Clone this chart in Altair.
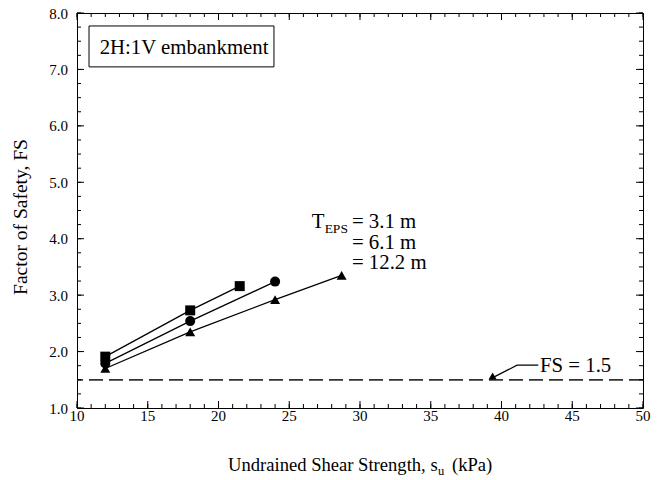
import altair as alt
import pandas as pd

# ---- data ----
series_names = ["3.1 m", "6.1 m", "12.2 m"]
su_31 = [12, 18, 21.5]
fs_31 = [1.91, 2.73, 3.16]
su_61 = [12, 18, 24]
fs_61 = [1.79, 2.54, 3.24]
su_122 = [12, 18, 24, 28.7]
fs_122 = [1.70, 2.35, 2.92, 3.35]
fs_limit = [1.5]

x_major = [10, 15, 20, 25, 30, 35, 40, 45, 50]
x_minor = list(range(10, 51))
y_major = [1, 2, 3, 4, 5, 6, 7, 8]
y_minor = [1 + 0.25 * i for i in range(29)]
x_labels = ["10", "15", "20", "25", "30", "35", "40", "45", "50"]
y_labels = ["1.0", "2.0", "3.0", "4.0", "5.0", "6.0", "7.0", "8.0"]

W, H = 566, 395
FONT = "Liberation Serif"

rows = []
for name, xs_, ys_ in [(series_names[0], su_31, fs_31),
                       (series_names[1], su_61, fs_61),
                       (series_names[2], su_122, fs_122)]:
    for a, b in zip(xs_, ys_):
        rows.append({"series": name, "su": a, "fs": b})
df = pd.DataFrame(rows)

xs = alt.Scale(domain=[10, 50], nice=False, zero=False)
ys = alt.Scale(domain=[1, 8], nice=False, zero=False)


def PX(field):
    return alt.X(field, scale=xs, axis=None)


def PY(field):
    return alt.Y(field, scale=ys, axis=None)


base = alt.Chart(df)

lines = base.mark_line(color="black", strokeWidth=1.3).encode(
    x=PX("su:Q"), y=PY("fs:Q"), detail="series:N")

dashed = alt.Chart(pd.DataFrame({"fs": fs_limit})).mark_rule(
    color="#333333", strokeWidth=1.7, strokeDash=[14, 6]).encode(y=PY("fs:Q"))

points = base.mark_point(filled=True, color="black", opacity=1, size=100).encode(
    x=PX("su:Q"), y=PY("fs:Q"),
    shape=alt.Shape("series:N", scale=alt.Scale(domain=series_names,
                                                range=["square", "circle", "triangle-up"]),
                    legend=None))

# title box
box_df = pd.DataFrame({"x": [10.85], "x2": [23.92], "y": [7.77], "y2": [7.045]})
box = alt.Chart(box_df).mark_rect(fill="white", stroke="black", strokeWidth=1).encode(
    x=PX("x:Q"), x2="x2:Q", y=PY("y:Q"), y2="y2:Q")
box_text = alt.Chart(pd.DataFrame({"x": [11.6], "y": [7.275], "t": ["2H:1V embankment"]})).mark_text(
    font=FONT, fontSize=20.8, align="left", baseline="alphabetic", color="black").encode(
    x=PX("x:Q"), y=PY("y:Q"), text="t:N")

# T_EPS annotation
ann_df = pd.DataFrame({
    "x": [26.59, 29.43, 29.43, 29.43],
    "y": [4.182, 4.182, 3.818, 3.465],
    "t": ["T", "= 3.1 m", "= 6.1 m", "= 12.2 m"]})
ann = alt.Chart(ann_df).mark_text(font=FONT, fontSize=20.8, align="left", baseline="alphabetic",
                                  color="black").encode(x=PX("x:Q"), y=PY("y:Q"), text="t:N")
sub = alt.Chart(pd.DataFrame({"x": [27.5], "y": [4.093], "t": ["EPS"]})).mark_text(
    font=FONT, fontSize=13.5, align="left", baseline="alphabetic", color="black").encode(
    x=PX("x:Q"), y=PY("y:Q"), text="t:N")

# FS = 1.5 label with leader
fs_text = alt.Chart(pd.DataFrame({"x": [42.72], "y": [1.636], "t": ["FS = 1.5"]})).mark_text(
    font=FONT, fontSize=20.8, align="left", baseline="alphabetic", color="black").encode(
    x=PX("x:Q"), y=PY("y:Q"), text="t:N")
leader_df = pd.DataFrame({"x": [42.6, 41.1, 39.25], "y": [1.76, 1.76, 1.52], "o": [0, 1, 2]})
leader = alt.Chart(leader_df).mark_line(color="black", strokeWidth=1.2).encode(
    x=PX("x:Q"), y=PY("y:Q"), order="o:Q")
arrow = alt.Chart(pd.DataFrame({"x": [39.3], "y": [1.535]})).mark_point(
    shape="triangle-up", filled=True, color="black", opacity=1, size=65, angle=240).encode(
    x=PX("x:Q"), y=PY("y:Q"))


def xticks(vals, length, bottom=True):
    d = pd.DataFrame({"v": vals})
    if bottom:
        return alt.Chart(d).mark_rule(color="black", strokeWidth=1).encode(
            x=PX("v:Q"), y=alt.value(H), y2=alt.value(H - length))
    return alt.Chart(d).mark_rule(color="black", strokeWidth=1).encode(
        x=PX("v:Q"), y=alt.value(0), y2=alt.value(length))


def yticks(vals, length, left=True):
    d = pd.DataFrame({"v": vals})
    if left:
        return alt.Chart(d).mark_rule(color="black", strokeWidth=1).encode(
            y=PY("v:Q"), x=alt.value(0), x2=alt.value(length))
    return alt.Chart(d).mark_rule(color="black", strokeWidth=1).encode(
        y=PY("v:Q"), x=alt.value(W), x2=alt.value(W - length))


ticks = [xticks(x_minor, 4, True), xticks(x_major, 7, True),
         xticks(x_minor, 4, False), xticks(x_major, 7, False),
         yticks(y_minor, 4, True), yticks(y_major, 7, True),
         yticks(y_minor, 4, False), yticks(y_major, 7, False)]

# tick labels
xlab = alt.Chart(pd.DataFrame({"v": x_major, "t": x_labels})).mark_text(
    font=FONT, fontSize=15, align="center", baseline="alphabetic", color="black").encode(
    x=PX("v:Q"), y=alt.value(H + 13), text="t:N")
ylab = alt.Chart(pd.DataFrame({"v": y_major, "t": y_labels})).mark_text(
    font=FONT, fontSize=15, align="right", baseline="alphabetic", dy=5.5, color="black").encode(
    y=PY("v:Q"), x=alt.value(-9), text="t:N")

# axis titles
one = pd.DataFrame({"a": [0]})
ytitle = alt.Chart(one).mark_text(font=FONT, fontSize=19.5, align="center", baseline="alphabetic",
                                  angle=270, color="black", text="Factor of Safety, FS").encode(
    x=alt.value(-50), y=alt.value(204))
xt1 = alt.Chart(one).mark_text(font=FONT, fontSize=18.6, align="left", baseline="alphabetic",
                               color="black", text="Undrained Shear Strength, s").encode(
    x=alt.value(151), y=alt.value(458))
xt2 = alt.Chart(one).mark_text(font=FONT, fontSize=12.5, align="left", baseline="alphabetic",
                               color="black", text="u").encode(x=alt.value(361), y=alt.value(462))
xt3 = alt.Chart(one).mark_text(font=FONT, fontSize=18.6, align="left", baseline="alphabetic",
                               color="black", text="(kPa)").encode(x=alt.value(375), y=alt.value(458))

chart = alt.layer(lines, dashed, points, box, box_text, ann, sub, fs_text, leader, arrow,
                  *ticks, xlab, ylab, ytitle, xt1, xt2, xt3).properties(
    width=W, height=H,
    autosize=alt.AutoSizeParams(type="none"),
    padding={"left": 69, "top": 5, "right": 12, "bottom": 70},
).configure(
    background="white",
    view=alt.ViewConfig(stroke="black", strokeWidth=1),
)

chart.save("out.html", embed_options={"renderer": "svg", "actions": False})
